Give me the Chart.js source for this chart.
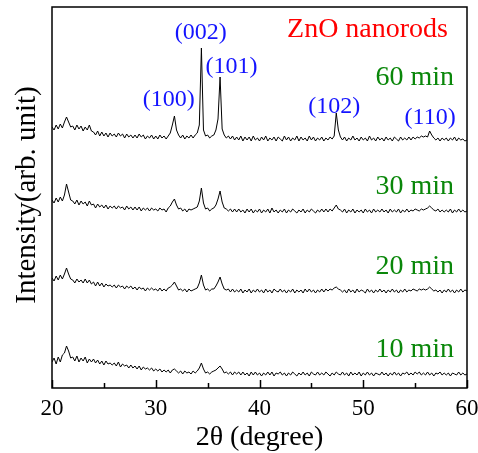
<!DOCTYPE html>
<html>
<head>
<meta charset="utf-8">
<script src="https://cdn.jsdelivr.net/npm/chart.js@4.4.0/dist/chart.umd.min.js"></script>
<style>
  body { margin: 0; background: #fff; }
</style>
</head>
<body>
<canvas id="xrd" width="478" height="453"></canvas>
<script>
// 2theta grid of the scan: 20 to 60 degree, 0.2 degree step
const startAngle = 20;
const step = 0.2;

const samples = ["10 min", "20 min", "30 min", "60 min"];
// vertical offset of each pattern in the stack (arb. unit)
const offsets = [14, 97, 177, 249];

// intensities (arb. unit), one value per step
const trace10 = [
  12, 16, 10, 17, 12, 19, 21, 28, 23, 16,
  17, 13, 18, 12, 16, 13, 17, 11, 15, 12,
  15, 11, 14, 10, 13, 9, 13, 10, 11, 9,
  11, 8, 12, 7, 10, 8, 9, 6, 9, 6,
  8, 5, 8, 4, 7, 5, 6, 4, 6, 3,
  5, 3, 5, 2, 4, 2, 4, 1, 4, 5,
  3, 1, 3, 0, 3, 1, 2, 0, 3, 1,
  3, 6, 11, 5, 1, 2, 0, 2, 3, 4,
  6, 8, 5, 1, 2, 0, 2, -1, 2, 0,
  2, -1, 2, -1, 1, -2, 2, -1, 2, -1,
  1, -2, 1, -1, 2, -1, 2, -2, 1, 0,
  2, -1, 1, -2, 1, -1, 2, 0, -2, 1,
  -1, 2, -1, 1, -2, 2, 0, -1, 2, -1,
  1, -1, 2, 0, -2, 1, -1, 2, 0, -1,
  2, -1, 1, -2, 2, -1, 1, -1, 2, -2,
  1, -1, 2, -1, 1, -2, 1, 0, -1, 2,
  -1, 1, -2, 1, -1, 2, -1, 1, -2, 1,
  0, 2, -1, 1, -1, 2, 0, 2, -1, 1,
  -1, 2, -1, 1, -2, 1, 0, 2, -1, 1,
  -1, 1, -2, 1, 0, -1, 2, -1, 1, -1,
  0
];
const trace20 = [
  13, 10, 15, 11, 16, 12, 17, 23, 17, 12,
  11, 8, 12, 9, 11, 8, 12, 8, 11, 7,
  9, 5, 9, 5, 8, 4, 7, 5, 6, 4,
  6, 3, 6, 4, 5, 2, 5, 3, 5, 2,
  4, 1, 4, 2, 3, 0, 3, 1, 3, 1,
  2, 0, 3, 0, 2, 0, 3, 4, 6, 9,
  5, 1, 2, 0, 2, -1, 2, 0, 1, 2,
  3, 8, 16, 6, 1, 2, 0, 2, 2, 5,
  9, 14, 7, 2, 1, 2, -1, 2, -1, 1,
  -1, 2, -2, 1, -1, 2, -2, 1, -1, 2,
  -1, 1, -2, 2, -1, 1, -2, 2, 0, -1,
  2, -1, 1, -2, 1, -1, 2, -2, 1, -1,
  1, -2, 2, -1, 2, -1, 1, -2, 1, -1,
  2, -1, 2, 0, 2, 1, 3, 4, 2, 1,
  -1, 1, -2, 2, -1, 1, -2, 2, -1, 1,
  0, -2, 2, -1, 1, -2, 1, -1, 2, -1,
  1, -2, 1, -1, 2, -1, 1, -2, 1, -1,
  2, -1, 1, 0, 2, 1, 0, 2, 1, 2,
  1, 2, 4, 2, 0, 1, -1, 1, -2, 1,
  -1, 2, -1, 1, -2, 1, -1, 2, -1, 1,
  0
];
const trace30 = [
  11, 8, 13, 9, 14, 10, 16, 27, 19, 11,
  10, 7, 11, 6, 10, 7, 9, 5, 10, 6,
  7, 3, 7, 4, 6, 3, 6, 2, 5, 3,
  5, 2, 5, 3, 4, 1, 5, 2, 4, 1,
  4, 1, 4, 0, 3, 1, 3, 0, 3, 1,
  2, 0, 3, 1, 2, -1, 3, 5, 9, 12,
  6, 2, 3, 0, 2, -1, 2, 1, 2, 3,
  4, 10, 23, 8, 2, 3, 0, 2, 3, 6,
  12, 20, 9, 3, 2, 0, 2, -1, 2, -1,
  2, -1, 1, -2, 2, -1, 2, -2, 1, -1,
  2, -2, 1, -1, 2, -2, 3, -1, 1, -2,
  1, -1, 2, -2, 1, -1, 2, 0, -2, 1,
  -1, 2, -2, 1, -1, 2, 0, -2, 1, -1,
  2, -1, 2, -1, 2, 0, 3, 6, 2, 1,
  -1, 2, -2, 1, -1, 2, -2, 1, -1, 1,
  -2, 2, -1, 1, -2, 2, -1, 1, -1, 2,
  -1, 1, -2, 2, -1, 1, -1, 2, -2, 1,
  -1, 2, -1, 1, 0, 2, 1, 0, 2, 1,
  2, 3, 5, 3, 1, 0, 2, -1, 1, -1,
  1, -1, 2, -2, 1, -1, 2, -1, 1, -1,
  0
];
const trace60 = [
  12, 9, 14, 10, 15, 11, 17, 22, 17, 12,
  13, 9, 14, 10, 13, 8, 12, 9, 14, 8,
  7, 4, 8, 3, 7, 3, 6, 2, 6, 3,
  5, 2, 6, 3, 5, 1, 5, 2, 4, 1,
  4, 1, 5, 2, 4, 0, 3, 1, 4, 0,
  3, 0, 4, 1, 3, 0, 3, 6, 14, 23,
  9, 4, 1, 4, 0, 3, 1, 4, 1, 4,
  6, 14, 91, 9, 3, 4, 1, 3, 4, 9,
  20, 62, 10, 4, 1, 3, 0, 3, -1, 2,
  -1, 3, -2, 2, -1, 2, -2, 3, -1, 1,
  -2, 2, -1, 3, -2, 1, -1, 2, -2, 2,
  0, -2, 3, -1, 2, -2, 1, -1, 3, -2,
  2, -1, 1, -2, 3, -1, 2, -2, 1, -1,
  2, -2, 1, -1, 2, 0, 3, 26, 9, 2,
  -1, 2, -2, 1, -1, 3, -1, 1, -2, 2,
  -1, 1, -2, 3, -1, 1, -2, 2, -1, 1,
  -2, 2, -1, 1, -2, 2, 0, -2, 2, -1,
  1, -1, 2, -1, 2, 0, 2, 1, 3, 2,
  3, 2, 8, 4, 1, -1, 1, -2, 1, -1,
  1, -2, 1, -1, 2, -2, 1, -1, 0, -2,
  -1
];
const traces = [trace10, trace20, trace30, trace60];

const xTicks = [20, 30, 40, 50, 60];

// peak indexing and where its label sits (2theta, stacked intensity)
const peakNames = ["(100)", "(002)", "(101)", "(102)", "(110)"];
const peakLabelX = [31.25, 34.33, 37.3, 47.2, 56.45];
const peakLabelY = [288, 355, 321, 281, 270];
const sampleLabelY = [38, 121, 201, 310];

const serif = "'Liberation Serif', 'Times New Roman', serif";

const datasets = traces.map((t, k) => ({
  label: samples[k],
  data: t.map((v, i) => ({ x: +(startAngle + i * step).toFixed(1), y: v + offsets[k] })),
  borderColor: "#000",
  borderWidth: 1,
  pointRadius: 0,
  tension: 0,
  fill: false
}));

const decor = {
  id: "decor",
  afterDraw(chart) {
    const c = chart.ctx;
    const a = chart.chartArea;
    const xs = chart.scales.x, ys = chart.scales.y;
    c.save();
    // frame
    c.strokeStyle = "#000";
    c.lineWidth = 1.5;
    c.strokeRect(a.left, a.top, a.right - a.left, a.bottom - a.top);
    // inward ticks, majors every 10, minors every 5
    for (let v = 20; v <= 60; v += 5) {
      const px = Math.round(xs.getPixelForValue(v)) + 0.5;
      const len = v % 10 === 0 ? 8 : 5;
      c.beginPath();
      c.moveTo(px, a.bottom);
      c.lineTo(px, a.bottom - len);
      c.stroke();
    }
    // y title
    c.fillStyle = "#000";
    c.font = "29px " + serif;
    c.textAlign = "center";
    c.textBaseline = "middle";
    c.translate(27, 195);
    c.rotate(-Math.PI / 2);
    c.fillText("Intensity(arb. unit)", 0, 0);
    c.restore();

    c.save();
    c.textBaseline = "middle";
    // peak labels
    c.fillStyle = "#1414ff";
    c.font = "24px " + serif;
    c.textAlign = "center";
    peakNames.forEach((n, i) => {
      c.fillText(n, xs.getPixelForValue(peakLabelX[i]), ys.getPixelForValue(peakLabelY[i]));
    });
    // sample labels
    c.fillStyle = "#0a870a";
    c.font = "28px " + serif;
    c.textAlign = "right";
    samples.forEach((s, k) => {
      c.fillText(s, xs.getPixelForValue(58.75), ys.getPixelForValue(sampleLabelY[k]));
    });
    c.fillStyle = "#ff0000";
    c.fillText("ZnO nanorods", xs.getPixelForValue(58.17), ys.getPixelForValue(358));
    c.restore();
  }
};

new Chart(document.getElementById("xrd"), {
  type: "line",
  data: { datasets },
  options: {
    responsive: false,
    animation: false,
    layout: { padding: { left: 52, right: 11, top: 7, bottom: 1 } },
    plugins: { legend: { display: false }, tooltip: { enabled: false } },
    scales: {
      x: {
        type: "linear",
        min: 20,
        max: 60,
        afterBuildTicks: (s) => { s.ticks = xTicks.map(v => ({ value: v })); },
        afterFit: (s) => {
          s.height = 64;
          s.paddingLeft = 0;
          s.paddingRight = 0;
        },
        grid: { display: false, drawTicks: false },
        border: { display: false },
        ticks: {
          color: "#000",
          padding: 7,
          font: { family: serif, size: 23, lineHeight: 1.2 }
        },
        title: {
          display: true,
          text: "2θ (degree)",
          color: "#000",
          padding: { top: 2, bottom: 0 },
          font: { family: serif, size: 28, lineHeight: 1 }
        }
      },
      y: {
        display: false,
        min: 0,
        max: 381
      }
    }
  },
  plugins: [decor]
});
</script>
</body>
</html>
